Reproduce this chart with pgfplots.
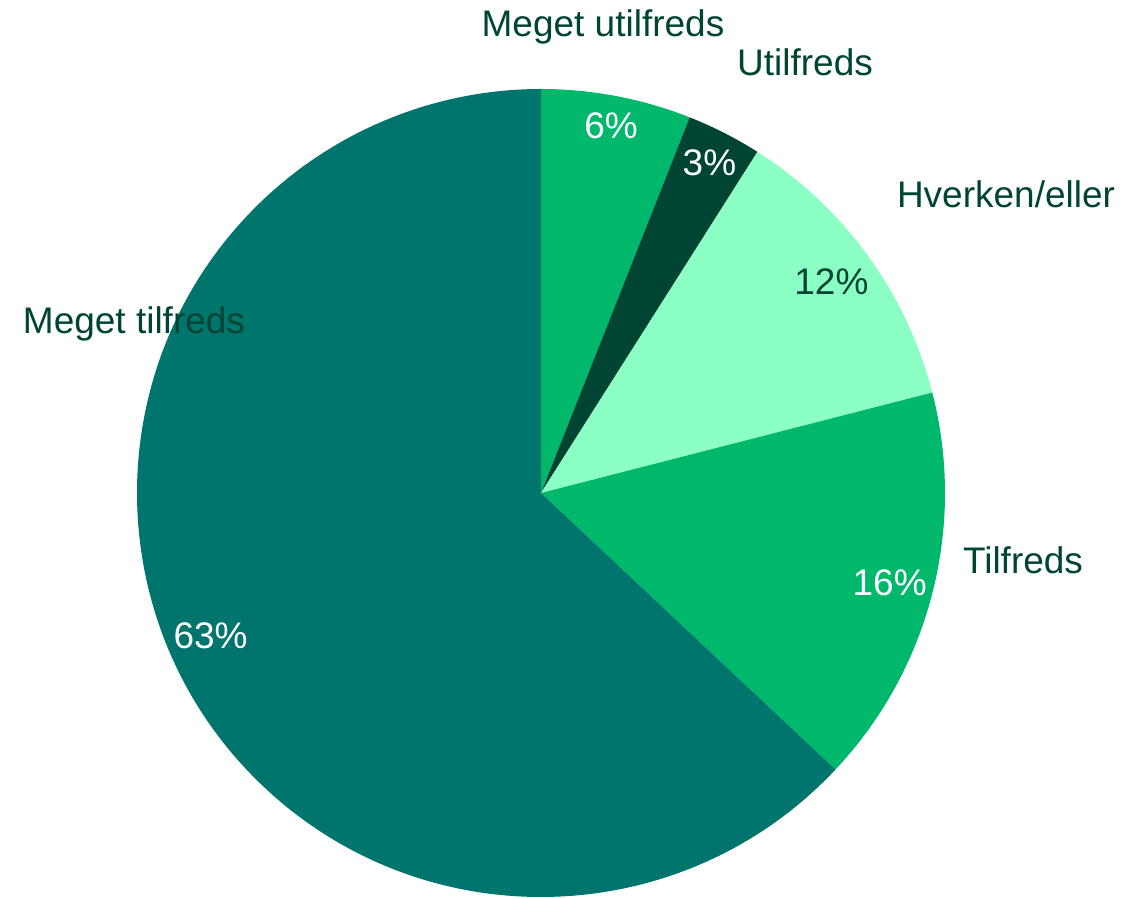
\documentclass[border=0pt]{standalone}
\usepackage{pgfplots}
\pgfplotsset{compat=1.18}
\usepackage{pgfplotstable}
\usepackage{fontspec}
\setmainfont{Liberation Sans}
\definecolor{cGreen}{HTML}{00B86B}
\definecolor{cDark}{HTML}{004433}
\definecolor{cLight}{HTML}{8CFFC4}
\definecolor{cTeal}{HTML}{00756E}
\definecolor{cText}{HTML}{004433}
\pgfplotstableread[col sep=comma]{
label,value,fillc,textc,lr
Meget utilfreds,6,cGreen,white,374
Utilfreds,3,cDark,white,371
Hverken/eller,12,cLight,cText,359
Tilfreds,16,cGreen,white,360
Meget tilfreds,63,cTeal,white,360
}\piedata
\newcommand\cumval{0}
\begin{document}
\begin{tikzpicture}
\path[use as bounding box] (0,0) rectangle (1127pt,897pt);
\begin{axis}[
  x=1pt, y=1pt,
  xmin=0, xmax=1127, ymin=0, ymax=897,
  at={(0,0)}, anchor=origin,
  hide axis, clip=false,
]
\addplot[draw=none] coordinates {(0,0) (1127,897)};
\pgfplotsextra{
  \foreach \i in {0,...,4}{
    \pgfplotstablegetelem{\i}{value}\of\piedata \let\v\pgfplotsretval
    \pgfplotstablegetelem{\i}{fillc}\of\piedata \let\fc\pgfplotsretval
    \pgfplotstablegetelem{\i}{textc}\of\piedata \let\tc\pgfplotsretval
    \pgfplotstablegetelem{\i}{lr}\of\piedata \let\lr\pgfplotsretval
    \pgfmathsetmacro\sa{90-3.6*\cumval}
    \pgfmathsetmacro\ea{90-3.6*(\cumval+\v)}
    \pgfmathsetmacro\ma{(\sa+\ea)/2}
    \fill[fill=\fc] (axis cs:541,404) -- ++(\sa:404pt) arc[start angle=\sa, end angle=\ea, radius=404pt] -- cycle;
    \path (axis cs:541,404) ++(\ma:\lr pt) node[text=\tc, font=\fontsize{37}{44}\selectfont, inner sep=0pt] {\v\%};
    \pgfmathsetmacro\newcum{\cumval+\v}
    \xdef\cumval{\newcum}
  }
}
\node[text=cText, font=\fontsize{37}{44}\selectfont, inner sep=0pt] at (axis cs:603,870) {Meget utilfreds};
\node[text=cText, font=\fontsize{37}{44}\selectfont, inner sep=0pt] at (axis cs:805,835) {Utilfreds};
\node[text=cText, font=\fontsize{37}{44}\selectfont, inner sep=0pt] at (axis cs:1006,703) {Hverken/eller};
\node[text=cText, font=\fontsize{37}{44}\selectfont, inner sep=0pt] at (axis cs:1023,337) {Tilfreds};
\node[text=cText, font=\fontsize{37}{44}\selectfont, inner sep=0pt] at (axis cs:134,573) {Meget tilfreds};
\end{axis}
\end{tikzpicture}
\end{document}
